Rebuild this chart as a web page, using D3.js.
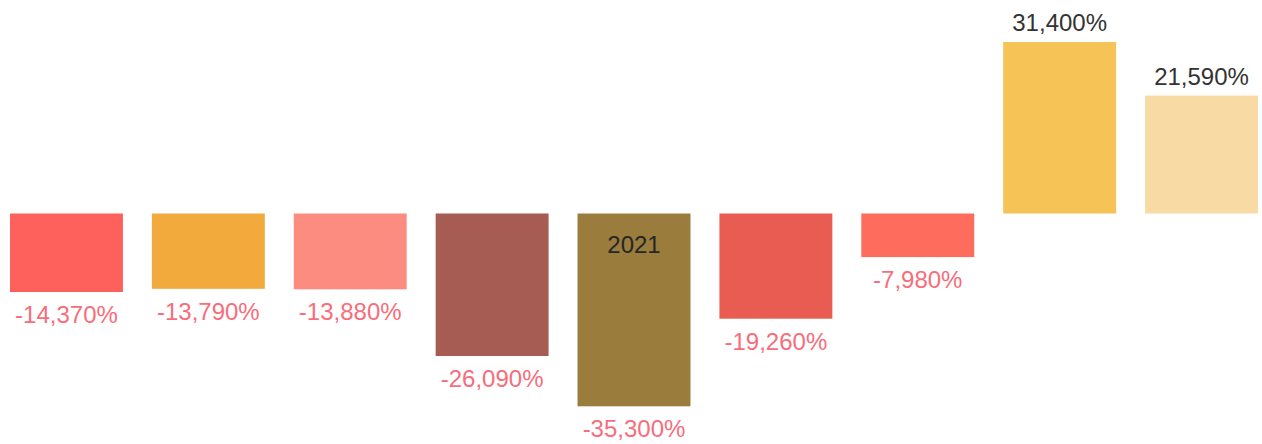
<!DOCTYPE html>
<html>
<head>
<meta charset="utf-8">
<script src="https://cdn.jsdelivr.net/npm/d3@7"></script>
<style>
  body { margin: 0; background: #fff; }
  text { font-family: "Liberation Sans", Arial, sans-serif; }
</style>
</head>
<body>
<svg id="chart" width="1262" height="444"></svg>
<script>
// values
const categories = ["", "", "", "", "2021", "", "", "", ""];
const values = [-14.37, -13.79, -13.88, -26.09, -35.3, -19.26, -7.98, 31.4, 21.59];
const colors = ["#fe605c", "#f2aa3c", "#fc8c80", "#a65c52", "#9a7c3c", "#e95c52", "#fd6c5c", "#f6c356", "#f8dba4"];

const locale = d3.formatLocale({ decimal: ",", thousands: ".", grouping: [3], currency: ["", ""], minus: "-" });
const fmt = locale.format(".3f");

const svg = d3.select("#chart");

const x = d3.scaleBand()
    .domain(d3.range(values.length))
    .range([10, 1258])
    .paddingInner(0.204)
    .paddingOuter(0);

const y = d3.scaleLinear()
    .domain([0, 31.4])
    .range([213.5, 42]);

const bars = svg.append("g");

bars.selectAll("rect")
    .data(values)
    .enter().append("rect")
    .attr("x", (d, i) => x(i))
    .attr("width", x.bandwidth())
    .attr("y", d => y(Math.max(0, d)))
    .attr("height", d => Math.abs(y(d) - y(0)))
    .style("fill", (d, i) => colors[i]);

bars.selectAll("text.val")
    .data(values)
    .enter().append("text")
    .attr("class", "val")
    .attr("x", (d, i) => x(i) + x.bandwidth() / 2)
    .attr("y", d => d < 0 ? y(d) + 31 : y(d) - 11)
    .attr("text-anchor", "middle")
    .style("font-size", "24px")
    .style("fill", d => d < 0 ? "#f76d7b" : "#333333")
    .text(d => fmt(d) + "%");

bars.selectAll("text.cat")
    .data(categories)
    .enter().append("text")
    .attr("class", "cat")
    .attr("x", (d, i) => x(i) + x.bandwidth() / 2)
    .attr("y", y(0) + 39)
    .attr("text-anchor", "middle")
    .style("font-size", "24px")
    .style("fill", "#262626")
    .text(d => d);
</script>
</body>
</html>
